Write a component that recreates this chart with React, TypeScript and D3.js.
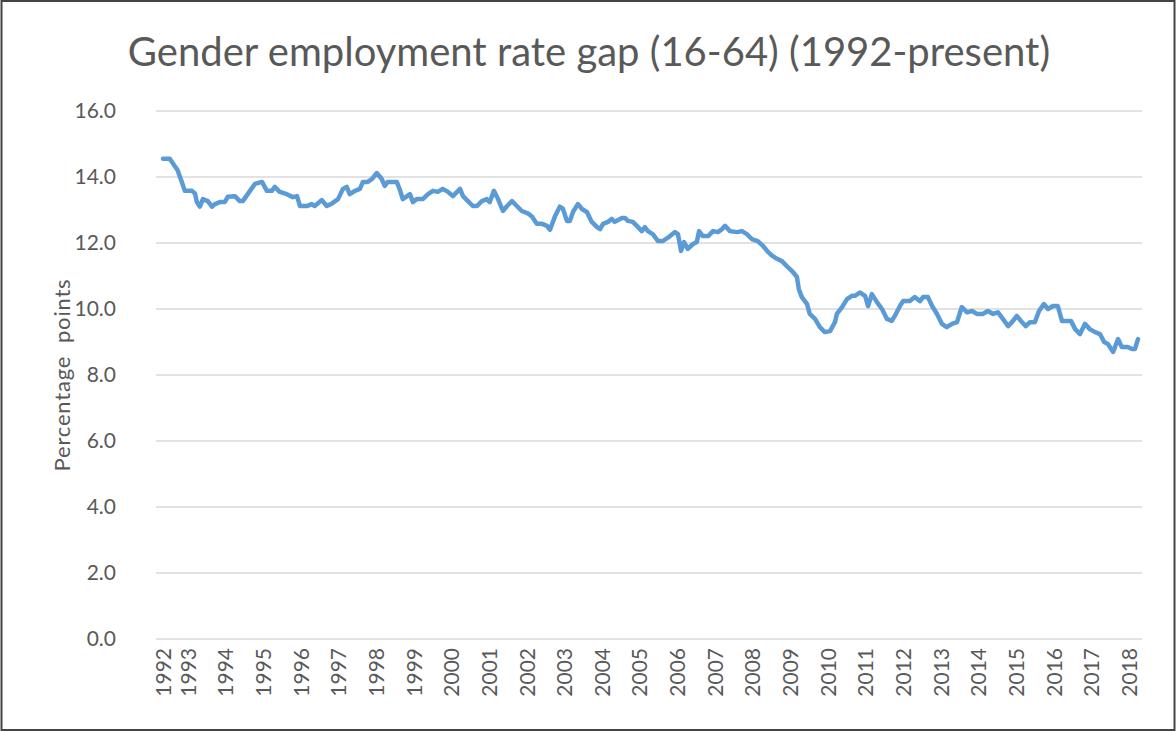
import * as d3 from "d3";
import React, { useEffect, useRef } from "react";

// [decimal year, gap in percentage points]
const obs1990s: [number, number][] = [
  [1992.34, 14.55], [1992.39, 14.55], [1992.52, 14.55], [1992.65, 14.33], [1992.73, 14.2],
  [1992.84, 13.85], [1992.92, 13.58], [1993.11, 13.58], [1993.19, 13.5], [1993.24, 13.24],
  [1993.32, 13.1], [1993.4, 13.33], [1993.53, 13.27], [1993.64, 13.1], [1993.72, 13.18],
  [1993.85, 13.24], [1993.98, 13.24], [1994.06, 13.4], [1994.25, 13.42], [1994.38, 13.27],
  [1994.46, 13.27], [1994.59, 13.48], [1994.78, 13.79], [1994.97, 13.85], [1995.1, 13.58],
  [1995.23, 13.58], [1995.31, 13.7], [1995.44, 13.55], [1995.63, 13.48], [1995.79, 13.39],
  [1995.9, 13.42], [1995.98, 13.12], [1996.16, 13.12], [1996.29, 13.18], [1996.37, 13.12],
  [1996.56, 13.3], [1996.69, 13.12], [1996.83, 13.2], [1996.99, 13.33], [1997.12, 13.64],
  [1997.22, 13.7], [1997.3, 13.48], [1997.44, 13.58], [1997.57, 13.64], [1997.65, 13.85],
  [1997.78, 13.85], [1997.89, 13.94], [1998.02, 14.12], [1998.15, 13.94], [1998.23, 13.73],
  [1998.31, 13.85], [1998.55, 13.85], [1998.63, 13.62], [1998.71, 13.33], [1998.9, 13.48],
  [1998.98, 13.24], [1999.08, 13.33], [1999.24, 13.33], [1999.38, 13.48], [1999.51, 13.58],
  [1999.64, 13.55], [1999.77, 13.64], [1999.91, 13.55],
];

const obs2000s: [number, number][] = [
  [2000.04, 13.42], [2000.23, 13.64], [2000.31, 13.42], [2000.44, 13.27], [2000.57, 13.12],
  [2000.68, 13.12], [2000.81, 13.27], [2000.94, 13.33], [2001.02, 13.24], [2001.13, 13.58],
  [2001.24, 13.33], [2001.37, 12.97], [2001.48, 13.12], [2001.61, 13.27], [2001.74, 13.12],
  [2001.87, 12.97], [2002.03, 12.9], [2002.14, 12.8], [2002.27, 12.58], [2002.41, 12.58],
  [2002.54, 12.52], [2002.62, 12.4], [2002.75, 12.8], [2002.88, 13.1], [2002.96, 13.05],
  [2003.07, 12.67], [2003.15, 12.67], [2003.23, 12.94], [2003.36, 13.18], [2003.47, 13.03],
  [2003.6, 12.94], [2003.73, 12.64], [2003.87, 12.48], [2003.95, 12.42], [2004.03, 12.58],
  [2004.16, 12.64], [2004.26, 12.73], [2004.34, 12.64], [2004.53, 12.76], [2004.61, 12.76],
  [2004.69, 12.67], [2004.82, 12.64], [2004.96, 12.48], [2005.06, 12.36], [2005.14, 12.48],
  [2005.22, 12.36], [2005.35, 12.27], [2005.49, 12.06], [2005.62, 12.06], [2005.81, 12.21],
  [2005.94, 12.33], [2006.02, 12.27], [2006.1, 11.76], [2006.18, 12.03], [2006.28, 11.82],
  [2006.42, 11.97], [2006.52, 12.03], [2006.58, 12.36], [2006.68, 12.21], [2006.82, 12.21],
  [2006.95, 12.36], [2007.08, 12.33], [2007.19, 12.42], [2007.27, 12.52], [2007.4, 12.36],
  [2007.59, 12.33], [2007.72, 12.36], [2007.85, 12.27], [2007.98, 12.12], [2008.14, 12.06],
  [2008.28, 11.91], [2008.41, 11.73], [2008.54, 11.6], [2008.65, 11.52], [2008.78, 11.45],
  [2008.91, 11.3], [2009.05, 11.15], [2009.18, 10.97], [2009.23, 10.6], [2009.31, 10.36],
  [2009.45, 10.15], [2009.52, 9.85], [2009.66, 9.7], [2009.79, 9.45], [2009.92, 9.3],
];

const obs2010s: [number, number][] = [
  [2010.06, 9.33], [2010.19, 9.6], [2010.24, 9.85], [2010.38, 10.06], [2010.51, 10.3],
  [2010.64, 10.4], [2010.72, 10.4], [2010.85, 10.5], [2010.99, 10.4], [2011.07, 10.09],
  [2011.17, 10.45], [2011.31, 10.2], [2011.44, 10.0], [2011.57, 9.7], [2011.7, 9.64],
  [2011.78, 9.79], [2011.92, 10.1], [2012.0, 10.24], [2012.18, 10.24], [2012.31, 10.36],
  [2012.45, 10.24], [2012.53, 10.36], [2012.66, 10.36], [2012.77, 10.09], [2012.9, 9.85],
  [2013.03, 9.55], [2013.16, 9.45], [2013.3, 9.55], [2013.43, 9.6], [2013.56, 10.06],
  [2013.7, 9.9], [2013.83, 9.94], [2013.96, 9.85], [2014.12, 9.85], [2014.25, 9.94],
  [2014.39, 9.85], [2014.52, 9.9], [2014.65, 9.7], [2014.79, 9.48], [2014.92, 9.64],
  [2015.02, 9.79], [2015.16, 9.6], [2015.26, 9.48], [2015.37, 9.6], [2015.5, 9.6],
  [2015.61, 9.94], [2015.74, 10.15], [2015.85, 10.0], [2015.98, 10.09], [2016.11, 10.09],
  [2016.22, 9.64], [2016.35, 9.64], [2016.46, 9.64], [2016.57, 9.39], [2016.7, 9.24],
  [2016.83, 9.55], [2016.96, 9.39], [2017.1, 9.3], [2017.23, 9.24], [2017.34, 9.0],
  [2017.44, 8.94], [2017.58, 8.7], [2017.71, 9.09], [2017.81, 8.85], [2017.95, 8.85],
  [2018.08, 8.79], [2018.16, 8.79], [2018.24, 9.09],
];

// first label sits on the first observation, the rest on January of each year
const yearTicks = [1992.34, 1993, 1994, 1995, 1996, 1997, 1998, 1999, 2000, 2001, 2002, 2003,
  2004, 2005, 2006, 2007, 2008, 2009, 2010, 2011, 2012, 2013, 2014, 2015, 2016, 2017, 2018];
const yTicks = [0, 2, 4, 6, 8, 10, 12, 14, 16];

const FONT = "Lato, 'Open Sans', sans-serif";
const TEXT = "#595959";

const App = () => {
  const svgRef = useRef<SVGSVGElement>(null);

  useEffect(() => {
    const width = 1176;
    const height = 731;
    const margin = { top: 111, right: 34, bottom: 92, left: 156 };

    d3.select(svgRef.current).selectAll("*").remove();

    const svg = d3.select(svgRef.current)
      .attr("width", width)
      .attr("height", height);

    svg.append("rect")
      .attr("width", width)
      .attr("height", height)
      .attr("fill", "#fff");

    // outer frame
    svg.append("rect")
      .attr("x", 1.5).attr("y", 1)
      .attr("width", width - 3).attr("height", height - 2)
      .attr("fill", "none")
      .attr("stroke", "#444")
      .attr("stroke-width", 2);

    const chartWidth = width - margin.left - margin.right;
    const chartHeight = height - margin.top - margin.bottom;

    const chart = svg.append("g")
      .attr("transform", `translate(${margin.left},${margin.top})`);

    const data = [...obs1990s, ...obs2000s, ...obs2010s];

    const xScale = d3.scaleLinear()
      .domain(d3.extent(data, d => d[0]) as [number, number])
      .range([7, chartWidth - 4]);

    const yScale = d3.scaleLinear()
      .domain([0, 16])
      .range([chartHeight, 0]);

    // gridlines
    chart.selectAll(".grid")
      .data(yTicks)
      .enter()
      .append("line")
      .attr("x1", 0)
      .attr("x2", chartWidth)
      .attr("y1", d => yScale(d))
      .attr("y2", d => yScale(d))
      .attr("stroke", "#d9d9d9")
      .attr("stroke-width", 1.5);

    // y axis labels
    const yAxis = chart.append("g")
      .call(d3.axisLeft(yScale).tickValues(yTicks).tickFormat(d3.format(".1f")).tickSize(0).tickPadding(40));
    yAxis.select(".domain").remove();
    yAxis.selectAll("text")
      .style("font-family", FONT)
      .style("font-size", "21px")
      .style("fill", TEXT);

    // x axis labels
    const xAxis = chart.append("g")
      .attr("transform", `translate(0,${chartHeight})`)
      .call(d3.axisBottom(xScale).tickValues(yearTicks).tickFormat(d => String(Math.floor(+d))).tickSize(0));
    xAxis.select(".domain").remove();
    xAxis.selectAll("text")
      .attr("transform", "rotate(-90)")
      .attr("x", -9)
      .attr("y", 0)
      .attr("dy", "0.35em")
      .style("text-anchor", "end")
      .style("font-family", FONT)
      .style("font-size", "21px")
      .style("fill", TEXT);

    // series
    const line = d3.line<[number, number]>()
      .x(d => xScale(d[0]))
      .y(d => yScale(d[1]));

    chart.append("path")
      .datum(data)
      .attr("fill", "none")
      .attr("stroke", "#5b9bd5")
      .attr("stroke-width", 4.5)
      .attr("stroke-linejoin", "round")
      .attr("stroke-linecap", "round")
      .attr("d", line);

    // y axis title
    svg.append("text")
      .attr("transform", `translate(62,${margin.top + chartHeight / 2}) rotate(-90)`)
      .attr("dy", "0.35em")
      .attr("text-anchor", "middle")
      .style("font-family", FONT)
      .style("font-size", "22px")
      .style("letter-spacing", "0.8px")
      .style("fill", TEXT)
      .style("white-space", "pre")
      .text("Percentage  points");

    // title
    svg.append("text")
      .attr("x", 589)
      .attr("y", 66)
      .attr("text-anchor", "middle")
      .style("font-family", FONT)
      .style("font-size", "40px")
      .style("fill", TEXT)
      .text("Gender employment rate gap (16-64) (1992-present)");
  }, []);

  return (
    <div style={{ position: "absolute", left: 0, top: 0 }}>
      <svg ref={svgRef} style={{ display: "block" }} />
    </div>
  );
};

export default App;
